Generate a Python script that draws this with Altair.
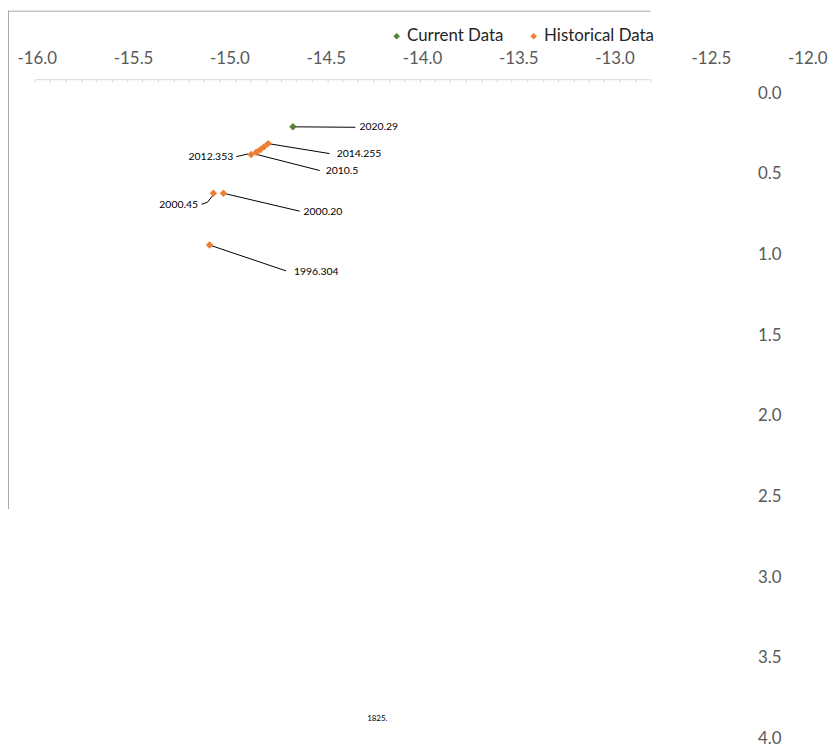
import altair as alt
import pandas as pd

# ---- data ----
x_ticks = [-16.0, -15.5, -15.0, -14.5, -14.0, -13.5, -13.0, -12.5, -12.0]
y_ticks = [0.0, 0.5, 1.0, 1.5, 2.0, 2.5, 3.0, 3.5, 4.0]

pt_series = ["Current Data", "Historical Data", "Historical Data", "Historical Data",
             "Historical Data", "Historical Data", "Historical Data", "Historical Data",
             "Historical Data"]
pt_x = [-14.670, -14.799, -14.820, -14.840, -14.861, -14.887, -15.083, -15.031, -15.103]
pt_y = [0.209, 0.313, 0.333, 0.351, 0.367, 0.381, 0.621, 0.621, 0.942]

lab_text = ["2020.29", "2014.255", "2010.5", "2012.353", "2000.45", "2000.20", "1996.304", "1825."]
lab_x = [-14.325, -14.443, -14.500, -14.980, -15.163, -14.615, -14.665, -14.232]
lab_y = [0.212, 0.378, 0.483, 0.394, 0.692, 0.738, 1.108, 3.883]
lab_align = ["left", "left", "left", "right", "right", "left", "left", "center"]
lab_size = [10.5, 10.5, 10.5, 10.5, 10.5, 10.5, 10.5, 8]

seg_x1 = [-14.670, -14.799, -14.866, -14.964, -15.144, -15.114, -15.031, -15.103]
seg_y1 = [0.209, 0.313, 0.378, 0.394, 0.689, 0.677, 0.621, 0.942]
seg_x2 = [-14.346, -14.480, -14.531, -14.902, -15.114, -15.079, -14.635, -14.706]
seg_y2 = [0.212, 0.375, 0.480, 0.377, 0.677, 0.623, 0.732, 1.102]

# ---- tables ----
pts = pd.DataFrame({"series": pt_series, "x": pt_x, "y": pt_y})
labs = pd.DataFrame({"text": lab_text, "x": lab_x, "y": lab_y, "align": lab_align, "size": lab_size})
segs = pd.DataFrame({"x": seg_x1, "y": seg_y1, "x2": seg_x2, "y2": seg_y2})
ext = pd.DataFrame({"x": [-16.0, -12.0]})

W, H = 829, 742
FONT = "Lato"
xs = alt.Scale(domain=[-16.1495, -11.8763], nice=False, zero=False)
ys = alt.Scale(domain=[-0.5108, 4.0554], nice=False, zero=False, reverse=True)

hyphen_fmt = "(datum.value < 0 ? '-' : '') + format(abs(datum.value), '.1f')"

xa = alt.Axis(orient="top", values=x_ticks, labelExpr=hyphen_fmt, offset=-48,
              ticks=False, tickSize=0, domain=False, grid=False, labelPadding=0,
              labelBaseline="middle", labelFont=FONT, labelFontSize=17,
              labelColor="#595959", labelOverlap=False, labelFlush=False, title=None)
ya = alt.Axis(orient="right", values=y_ticks, labelExpr=hyphen_fmt, offset=-74,
              ticks=False, tickSize=0, domain=False, grid=False, labelPadding=0,
              labelAlign="left", labelBaseline="middle", labelFont=FONT,
              labelFontSize=17, labelColor="#595959", labelOverlap=False,
              labelFlush=False, title=None)

frame_top = alt.Chart(pd.DataFrame({"a": [0]})).mark_rule(color="#A6A6A6", strokeWidth=1).encode(
    x=alt.value(0), x2=alt.value(647), y=alt.value(0.5))
frame_left = alt.Chart(pd.DataFrame({"a": [0]})).mark_rule(color="#A6A6A6", strokeWidth=1).encode(
    x=alt.value(0.5), y=alt.value(0), y2=alt.value(502))

leaders = alt.Chart(segs).mark_rule(color="black", strokeWidth=1).encode(
    x=alt.X("x:Q", scale=xs, axis=xa),
    y=alt.Y("y:Q", scale=ys, axis=ya),
    x2="x2:Q", y2="y2:Q")

points = alt.Chart(pts).mark_point(shape="diamond", filled=True, size=55, opacity=1).encode(
    x=alt.X("x:Q", scale=xs, axis=xa),
    y=alt.Y("y:Q", scale=ys, axis=ya),
    color=alt.Color("series:N",
                    scale=alt.Scale(domain=["Current Data", "Historical Data"],
                                    range=["#548235", "#ED7D31"]),
                    legend=alt.Legend(orient="none", legendX=383, legendY=17,
                                      direction="horizontal", title=None,
                                      symbolType="diamond", symbolSize=45,
                                      labelFont=FONT, labelFontSize=17,
                                      labelColor="#262626", labelOffset=2,
                                      columnPadding=21, padding=0)))


def label_layer(al):
    return alt.Chart(labs).transform_filter(alt.datum.align == al).mark_text(
        font=FONT, color="black", baseline="middle", align=al).encode(
        x=alt.X("x:Q", scale=xs, axis=xa),
        y=alt.Y("y:Q", scale=ys, axis=ya),
        text="text:N",
        size=alt.Size("size:Q", scale=None, legend=None))


main = alt.layer(frame_top, frame_left, leaders, points,
                 label_layer("left"), label_layer("right"), label_layer("center"))

tickline = alt.Chart(ext).mark_point(opacity=0).encode(
    x=alt.X("x:Q", scale=alt.Scale(domain=[-16, -12], range=[27, 647], nice=False, zero=False),
            axis=alt.Axis(orient="bottom", offset=-673, labels=False, grid=False,
                          domain=True, domainColor="#D9D9D9", ticks=True, tickColor="#D9D9D9",
                          tickSize=3, tickCount=40, title=None)))

chart = alt.layer(main, tickline).resolve_scale(x="independent").properties(
    width=W, height=H, padding=0, autosize=alt.AutoSizeParams(type="none")
).configure_view(stroke=None)

chart.save("out.html", embed_options={"renderer": "svg", "actions": False})
